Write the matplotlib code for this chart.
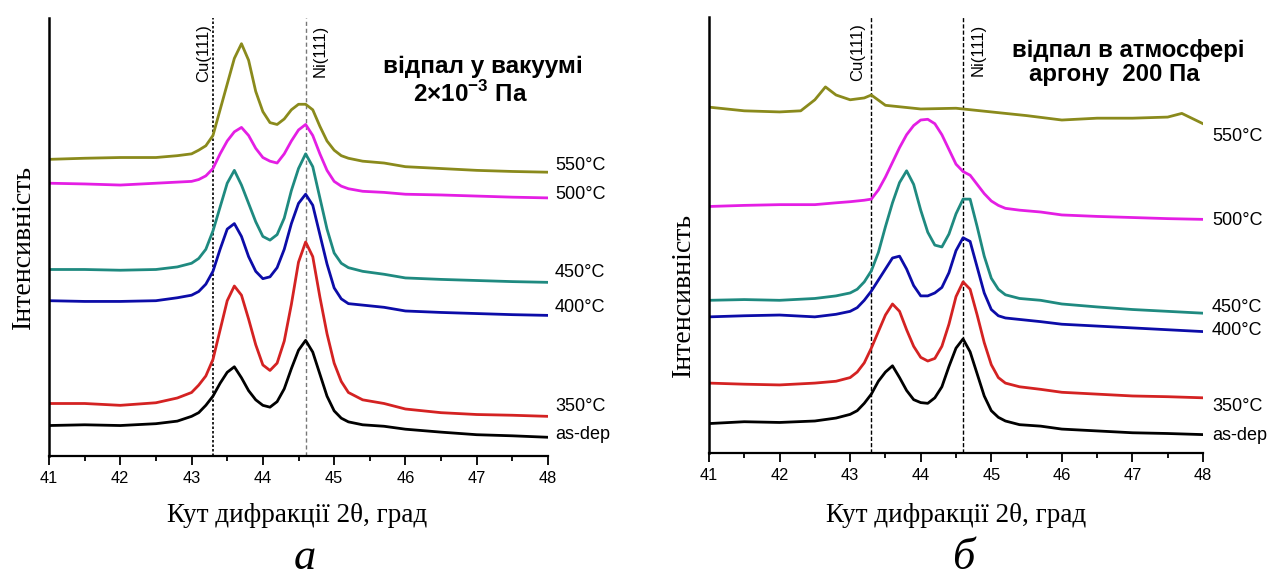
import matplotlib
matplotlib.use('Agg')
from matplotlib import pyplot as plt
from matplotlib.ticker import MultipleLocator

plt.rcParams['font.family'] = ['Liberation Sans', 'DejaVu Sans']
plt.rcParams['mathtext.fontset'] = 'custom'
plt.rcParams['mathtext.rm'] = 'Liberation Sans'
plt.rcParams['mathtext.bf'] = 'Liberation Sans:bold'

# shared 2theta grid for the stacked patterns
two_theta = [41, 41.5, 42, 42.5, 42.8, 43.0, 43.1, 43.2, 43.3, 43.4, 43.5, 43.6, 43.7,
             43.8, 43.9, 44.0, 44.1, 44.2, 44.3, 44.4, 44.5, 44.6, 44.7, 44.8, 44.9,
             45.0, 45.1, 45.2, 45.4, 45.7, 46, 46.5, 47, 47.5, 48]

# (a) vacuum anneal, stacked intensities (arb. units)
vac_asdep = [83, 85, 83, 88, 95, 108, 118, 138, 163, 198, 228, 243, 213, 178, 153, 138, 133,
             148, 183, 238, 288, 315, 283, 223, 163, 123, 103, 93, 85, 81, 73, 65, 58, 55, 51]
vac_350 = [143, 143, 138, 145, 158, 173, 193, 218, 263, 343, 423, 463, 438, 373, 303, 248, 233,
           253, 313, 413, 528, 583, 543, 433, 333, 253, 203, 173, 153, 143, 128, 118, 113, 111, 108]
vac_400 = [423, 421, 421, 423, 431, 438, 448, 468, 503, 563, 618, 633, 598, 543, 503, 483, 488,
           513, 563, 633, 688, 713, 683, 603, 523, 458, 428, 415, 411, 405, 395, 391, 388, 385, 383]
vac_450 = [508, 508, 506, 508, 515, 525, 538, 563, 613, 678, 743, 778, 738, 688, 638, 598, 588,
           603, 648, 723, 783, 823, 788, 703, 618, 553, 525, 513, 503, 495, 485, 481, 478, 475, 473]
vac_500 = [743, 741, 738, 743, 746, 748, 753, 763, 783, 823, 858, 883, 895, 873, 838, 813, 803,
           798, 823, 858, 888, 903, 873, 823, 778, 748, 735, 728, 721, 718, 713, 711, 708, 705, 703]
vac_550 = [808, 811, 813, 813, 818, 823, 833, 845, 873, 943, 1013, 1083, 1123, 1078, 993, 938, 908,
           903, 918, 943, 958, 958, 943, 898, 858, 833, 818, 811, 803, 798, 788, 783, 778, 775, 773]

# (b) argon anneal
ar_asdep = [80, 85, 83, 87, 95, 105, 115, 135, 160, 195, 220, 237, 205, 170, 145, 137, 135,
            150, 180, 235, 285, 310, 275, 215, 155, 115, 97, 87, 77, 73, 65, 60, 55, 53, 50]
ar_350 = [190, 187, 185, 190, 195, 205, 220, 245, 285, 330, 375, 405, 385, 335, 290, 260, 250,
          257, 290, 350, 425, 465, 445, 375, 300, 240, 205, 190, 180, 173, 165, 160, 155, 153, 150]
ar_400 = [370, 373, 375, 370, 377, 385, 395, 415, 440, 470, 500, 530, 535, 500, 455, 427, 427,
          435, 450, 490, 550, 585, 575, 505, 435, 390, 373, 367, 363, 357, 350, 345, 340, 335, 330]
ar_450 = [415, 417, 415, 420, 427, 435, 445, 465, 495, 545, 615, 680, 735, 767, 730, 660, 600,
          565, 560, 595, 650, 690, 690, 615, 535, 475, 445, 430, 420, 415, 405, 397, 390, 385, 380]
ar_500 = [670, 673, 675, 675, 680, 683, 685, 687, 690, 715, 750, 790, 830, 865, 890, 905, 907,
          895, 865, 825, 785, 765, 755, 730, 705, 685, 673, 665, 660, 655, 647, 643, 640, 637, 635]
ar_550_theta = [41, 41.5, 42, 42.3, 42.5, 42.65, 42.8, 43.0, 43.2, 43.3, 43.5, 44.0, 44.5,
                45.0, 45.5, 46.0, 46.5, 47.0, 47.5, 47.7, 48]
ar_550 = [940, 930, 927, 930, 960, 995, 973, 960, 965, 973, 945, 935, 937,
          927, 917, 905, 910, 910, 913, 923, 895]

labels = ['as-dep', '350°C', '400°C', '450°C', '500°C', '550°C']
colors = ['black', '#d42222', '#0c0ca8', '#1f8a80', '#e41ee4', '#8a8a1c']
cu_111 = 43.3
ni_111 = 44.6

W, H = 1278, 576
fig = plt.figure(figsize=(W / 100, H / 100), dpi=100)


def px_axes(x0, x1, y0, y1):
    return fig.add_axes([x0 / W, 1 - y1 / H, (x1 - x0) / W, (y1 - y0) / H])


def setup(ax, ymax):
    ax.set_xlim(41, 48)
    ax.set_ylim(0, ymax)
    ax.spines['top'].set_visible(False)
    ax.spines['right'].set_visible(False)
    ax.spines['left'].set_linewidth(1.8)
    ax.spines['bottom'].set_linewidth(1.6)
    ax.set_yticks([])
    ax.xaxis.set_major_locator(MultipleLocator(1))
    ax.xaxis.set_minor_locator(MultipleLocator(0.5))
    ax.tick_params(axis='x', which='major', length=6.5, width=1.3, labelsize=11.8, pad=4)
    ax.tick_params(axis='x', which='minor', length=3.5, width=1.3)


ax1 = px_axes(49, 548, 18, 456)
setup(ax1, 1193)
ax1.axvline(cu_111, color='black', ls=(0, (1.5, 1.2)), lw=1.2)
ax1.axvline(ni_111, color='#777777', ls=(0, (3, 2)), lw=1.0)
for ys, c in zip([vac_asdep, vac_350, vac_400, vac_450, vac_500, vac_550], colors):
    ax1.plot(two_theta, ys, color=c, lw=2.0)

ax2 = px_axes(709, 1203, 17, 453)
setup(ax2, 1185)
ax2.axvline(cu_111, color='black', ls=(0, (3, 1.5)), lw=1.0)
ax2.axvline(ni_111, color='black', ls=(0, (3, 1.5)), lw=1.0)
for ys, c in zip([ar_asdep, ar_350, ar_400, ar_450, ar_500], colors):
    ax2.plot(two_theta, ys, color=c, lw=2.0)
ax2.plot(ar_550_theta, ar_550, color=colors[5], lw=2.0)

# curve labels at right end
for lab, yf in zip(labels, [0.048, 0.112, 0.338, 0.418, 0.596, 0.664]):
    ax1.text(1.014, yf, lab, transform=ax1.transAxes, fontsize=13, va='center', ha='left')
for lab, yf in zip(labels, [0.041, 0.106, 0.282, 0.333, 0.534, 0.725]):
    ax2.text(1.018, yf, lab, transform=ax2.transAxes, fontsize=13, va='center', ha='left')

# reflection labels
for ax, cu_x, ni_x in [(ax1, 43.27, 44.70), (ax2, 43.21, 44.71)]:
    ax.text(cu_x, 0.985, 'Cu(111)', transform=ax.get_xaxis_transform(), rotation=90,
            ha='right', va='top', fontsize=12)
    ax.text(ni_x, 0.985, 'Ni(111)', transform=ax.get_xaxis_transform(), rotation=90,
            ha='left', va='top', fontsize=12)


def ftext(x, y, s, **kw):
    fig.text(x / W, 1 - y / H, s, ha='center', va='center', **kw)


ftext(483, 66, 'відпал у вакуумі', fontsize=17.5, fontweight='bold')
ftext(470, 94, r'2×10$^{\mathbf{-3}}$ Па', fontsize=17.5, fontweight='bold')
ftext(1128, 50, 'відпал в атмосфері', fontsize=17.3, fontweight='bold')
ftext(1114, 74, 'аргону  200 Па', fontsize=17.3, fontweight='bold')

serif = ['Liberation Serif', 'DejaVu Serif']
ftext(297, 515, 'Кут дифракції 2θ, град', fontsize=19.5, family=serif)
ftext(956, 515, 'Кут дифракції 2θ, град', fontsize=19.5, family=serif)
ftext(23, 247, 'Інтенсивність', fontsize=20, family=serif, rotation=90)
ftext(683, 295, 'Інтенсивність', fontsize=20, family=serif, rotation=90)
ftext(305, 558, 'а', fontsize=32, family=serif, style='italic')
ftext(963, 558, 'б', fontsize=32, family=serif, style='italic')

fig.savefig('out.png', dpi=100)
